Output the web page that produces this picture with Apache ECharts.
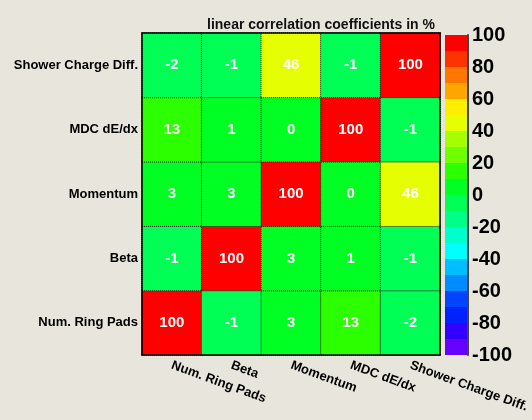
<!DOCTYPE html>
<html>
<head>
<meta charset="utf-8">
<script src="https://cdn.jsdelivr.net/npm/echarts@6/dist/echarts.min.js"></script>
<style>
  html, body { margin: 0; padding: 0; background: #e8e6dc; }
  #main { width: 532px; height: 420px; }
</style>
</head>
<body>
<div id="main"></div>
<script>
// variable names, x from left to right, y from bottom to top
var varNames = ['Num. Ring Pads', 'Beta', 'Momentum', 'MDC dE/dx', 'Shower Charge Diff.'];

// correlation rows, listed from bottom row (Num. Ring Pads) to top row
var corrRows = [
    [100, -1, 3, 13, -2],
    [-1, 100, 3, 1, -1],
    [3, 3, 100, 0, 46],
    [13, 1, 0, 100, -1],
    [-2, -1, 46, -1, 100]
];

// palette bins of the colour scale: lower edge of each bin and its colour
var binLower = [-100, -90, -80, -70, -60, -50, -40, -30, -20, -10,
                0, 10, 20, 30, 40, 50, 60, 70, 80, 90];
var binColors = ['#6600ff', '#3300ff', '#0022ff', '#0044ff', '#008cff',
                 '#00bfff', '#00ffff', '#00ffcc', '#00ff88', '#00ff55',
                 '#00ff22', '#2bff00', '#70ff00', '#a6ff00', '#e6ff00',
                 '#ffee00', '#ffa500', '#ff7700', '#ff3300', '#ff0000'];
var binSize = 10;

var heatData = [];
corrRows.forEach(function(row, y){
    row.forEach(function(v, x){
        heatData.push([x, y, v]);
    });
});

var pieces = binLower.map(function(lo, i){
    var p = {gte: lo, color: binColors[i]};
    if (i == binLower.length - 1) p.lte = lo + binSize; else p.lt = lo + binSize;
    return p;
});

// colour bar: stacked bars, positives upward from 0, negatives downward from 0
var order = [];
binLower.forEach(function(lo, i){ if (lo >= 0) order.push(i); });
binLower.slice().reverse().forEach(function(lo){
    if (lo < 0) order.push(binLower.indexOf(lo));
});
var barSeries = order.map(function(i){
    return {
        type: 'bar',
        xAxisIndex: 2,
        yAxisIndex: 2,
        stack: 'palette',
        barWidth: '100%',
        barCategoryGap: 0,
        silent: true,
        itemStyle: {color: binColors[i]},
        data: [binLower[i] >= 0 ? binSize : -binSize]
    };
});

var font = 'Liberation Sans';
var myChart = echarts.init(document.getElementById('main'), null, {renderer: 'canvas'});

var option = {
    backgroundColor: '#e8e6dc',
    animation: false,
    title: {
        text: 'linear correlation coefficients in %',
        left: 316,
        top: 13,
        textAlign: 'center',
        textStyle: {fontFamily: font, fontWeight: 'bold', fontSize: 14, color: '#111'}
    },
    grid: [
        {left: 142, top: 33, width: 300, height: 322},
        {left: 445, top: 35, width: 23, height: 320}
    ],
    visualMap: {
        type: 'piecewise',
        show: false,
        seriesIndex: 0,
        dimension: 2,
        pieces: pieces
    },
    xAxis: [
        {
            gridIndex: 0, type: 'category', data: varNames, position: 'bottom', z: 10,
            axisLine: {lineStyle: {color: '#000', width: 1.5}},
            axisTick: {inside: true, length: 7, lineStyle: {color: '#000', width: 1.5}},
            splitLine: {show: false},
            axisLabel: {
                rotate: -20, margin: 10, interval: 0,
                fontFamily: font, fontWeight: 'bold', fontSize: 13, color: '#000'
            }
        },
        {
            gridIndex: 0, type: 'category', data: varNames, position: 'top', z: 10,
            axisLine: {lineStyle: {color: '#000', width: 1.5}},
            axisTick: {show: false}, axisLabel: {show: false}
        },
        {gridIndex: 1, type: 'category', data: ['palette'], show: false}
    ],
    yAxis: [
        {
            gridIndex: 0, type: 'category', data: varNames, position: 'left', z: 10,
            axisLine: {lineStyle: {color: '#000', width: 1.5}},
            axisTick: {inside: true, length: 7, lineStyle: {color: '#000', width: 1.5}},
            splitLine: {show: false},
            axisLabel: {margin: 4, fontFamily: font, fontWeight: 'bold', fontSize: 13, color: '#000'}
        },
        {
            gridIndex: 0, type: 'category', data: varNames, position: 'right', z: 10,
            axisLine: {lineStyle: {color: '#000', width: 1.5}},
            axisTick: {show: false}, axisLabel: {show: false}
        },
        {
            gridIndex: 1, type: 'value', position: 'right', min: -100, max: 100, interval: 20, z: 10,
            axisLine: {show: true, lineStyle: {color: '#444', width: 2}},
            axisTick: {inside: true, length: 8, lineStyle: {color: '#000', width: 1.5}},
            splitLine: {show: false},
            axisLabel: {
                margin: 4, padding: [6, 0, 0, 0],
                fontFamily: font, fontWeight: 'bold', fontSize: 20, color: '#000'
            }
        }
    ],
    series: [
        {
            type: 'heatmap',
            xAxisIndex: 0,
            yAxisIndex: 0,
            data: heatData,
            itemStyle: {borderColor: '#222', borderWidth: 1, borderType: 'dotted'},
            label: {
                show: true, color: '#fff', fontFamily: font, fontWeight: 'bold', fontSize: 15,
                formatter: function(p){ return p.value[2]; }
            }
        }
    ].concat(barSeries)
};

myChart.setOption(option);
</script>
</body>
</html>
